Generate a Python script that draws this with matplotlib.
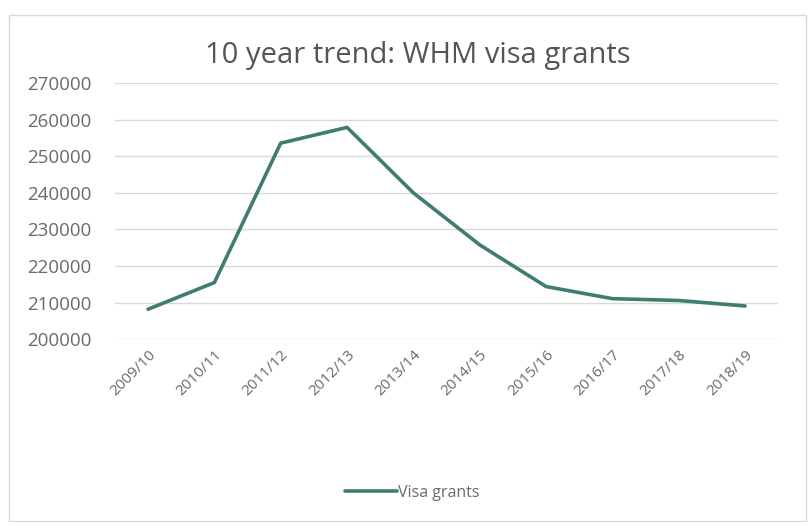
import matplotlib.pyplot as plt
from matplotlib.patches import Rectangle

# data
years = ['2009/10', '2010/11', '2011/12', '2012/13', '2013/14',
         '2014/15', '2015/16', '2016/17', '2017/18', '2018/19']
grants = [208200, 215500, 253600, 257900, 240000,
          225800, 214400, 211100, 210600, 209100]
yticks = [200000, 210000, 220000, 230000, 240000, 250000, 260000, 270000]

line_color = '#3f7d72'
text_color = '#6a6a6a'

plt.rcParams['font.family'] = ['Open Sans', 'DejaVu Sans']

fig = plt.figure(figsize=(8.09, 5.26), dpi=100)
ax = fig.add_axes([0.142, 0.355, 0.820, 0.487])

x = list(range(len(years)))
ax.plot(x, grants, color=line_color, linewidth=2.6, label='Visa grants',
        solid_joinstyle='round', solid_capstyle='round')

ax.set_xlim(-0.5, len(years) - 0.5)
ax.set_ylim(200000, 270000)
ax.set_yticks(yticks)
ax.set_yticklabels([str(v) for v in yticks], fontsize=13.5, color=text_color)
ax.set_xticks(x)
ax.set_xticklabels(years, rotation=45, ha='right', rotation_mode='anchor',
                   fontsize=11, color=text_color)

ax.grid(axis='y', color='#d9d9d9', linewidth=1)
ax.set_axisbelow(True)
for s in ax.spines.values():
    s.set_visible(False)
ax.tick_params(length=0)
ax.tick_params(axis='y', pad=17)
ax.tick_params(axis='x', pad=6)

fig.text(0.516, 0.894, '10 year trend: WHM visa grants', ha='center', va='center',
         fontsize=21, color='#555555')

fig.legend(loc='center', bbox_to_anchor=(0.51, 1 - 493 / 526), frameon=False,
           fontsize=11.5, labelcolor=text_color, handlelength=3.2, handletextpad=0.1)

# light chart border like the spreadsheet chart area
fig.patches.append(Rectangle((0.011, 0.01), 0.985, 0.962, transform=fig.transFigure,
                             fill=False, edgecolor='#d9d9d9', linewidth=1))

fig.savefig('out.png', dpi=100)
